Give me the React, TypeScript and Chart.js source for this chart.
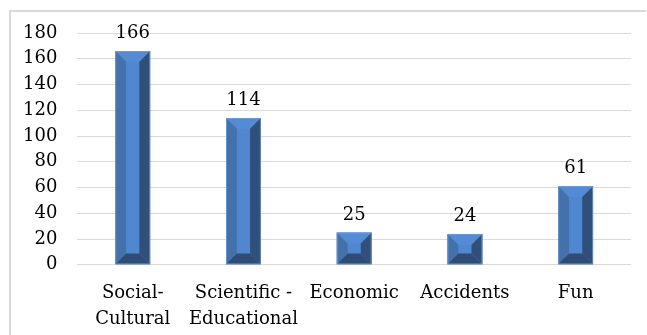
import React, { useEffect, useRef } from "react";
import { Chart, registerables } from "chart.js";

Chart.register(...registerables);

const categories: string[][] = [
  ["Social-", "Cultural"],
  ["Scientific -", "Educational"],
  ["Economic"],
  ["Accidents"],
  ["Fun"],
];
const counts: number[] = [166, 114, 25, 24, 61];
const yTicks: number[] = [0, 20, 40, 60, 80, 100, 120, 140, 160, 180];

const FONT = "'DejaVu Serif', serif";

// Bevelled bar faces, drawn over each plain bar
const bevelPlugin = {
  id: "bevel",
  afterDatasetsDraw(chart: any) {
    const ctx = chart.ctx;
    const meta = chart.getDatasetMeta(0);
    meta.data.forEach((bar: any) => {
      const { x, y, base, width } = bar.getProps(["x", "y", "base", "width"], true);
      const l = x - width / 2;
      const r = x + width / 2;
      const t = Math.min(y, base);
      const b = Math.max(y, base);
      const bv = Math.min(11, width * 0.31, (b - t) / 2 - 1);
      const poly = (pts: number[][], color: string) => {
        ctx.beginPath();
        ctx.moveTo(pts[0][0], pts[0][1]);
        for (let i = 1; i < pts.length; i++) ctx.lineTo(pts[i][0], pts[i][1]);
        ctx.closePath();
        ctx.fillStyle = color;
        ctx.fill();
      };
      ctx.save();
      poly([[l + bv, t + bv], [r - bv, t + bv], [r - bv, b - bv], [l + bv, b - bv]], "#4f87d0");
      poly([[l, t], [r, t], [r - bv, t + bv], [l + bv, t + bv]], "#548bd4");
      poly([[l, t], [l + bv, t + bv], [l + bv, b - bv], [l, b]], "#4471aa");
      poly([[r, t], [r, b], [r - bv, b - bv], [r - bv, t + bv]], "#30507b");
      poly([[l, b], [l + bv, b - bv], [r - bv, b - bv], [r, b]], "#2f4c75");
      ctx.strokeStyle = "rgba(120,160,215,0.7)";
      ctx.lineWidth = 1;
      ctx.strokeRect(l + 0.5, t + 0.5, width - 1, b - t - 1);
      ctx.restore();
    });
  },
};

// Value above each bar
const valueLabelPlugin = {
  id: "valueLabels",
  afterDatasetsDraw(chart: any) {
    const ctx = chart.ctx;
    const meta = chart.getDatasetMeta(0);
    const data = chart.data.datasets[0].data as number[];
    ctx.save();
    ctx.font = `18px ${FONT}`;
    ctx.fillStyle = "#000000";
    ctx.textAlign = "center";
    ctx.textBaseline = "alphabetic";
    meta.data.forEach((bar: any, i: number) => {
      ctx.fillText(String(data[i]), bar.x, bar.y - 13);
    });
    ctx.restore();
  },
};

// Light frame along the top and left edges
const framePlugin = {
  id: "frame",
  beforeDraw(chart: any) {
    const ctx = chart.ctx;
    ctx.save();
    ctx.strokeStyle = "#d9d9d9";
    ctx.lineWidth = 2;
    ctx.beginPath();
    ctx.moveTo(10, chart.height);
    ctx.lineTo(10, 11);
    ctx.lineTo(chart.width - 1, 11);
    ctx.stroke();
    ctx.restore();
  },
};

export default function App() {
  const canvasRef = useRef<HTMLCanvasElement | null>(null);

  useEffect(() => {
    document.body.style.margin = "0";
    const canvas = canvasRef.current;
    if (!canvas) return;
    const chart = new Chart(canvas, {
      type: "bar",
      data: {
        labels: categories,
        datasets: [
          {
            data: counts,
            backgroundColor: "#4f87d0",
            borderWidth: 0,
            barPercentage: 0.63,
            categoryPercentage: 0.5,
          },
        ],
      },
      options: {
        responsive: false,
        animation: false,
        devicePixelRatio: 1,
        layout: { padding: { left: 3, right: 16, top: 33, bottom: -12 } },
        plugins: {
          legend: { display: false },
          tooltip: { enabled: false },
        },
        scales: {
          x: {
            grid: { display: false, drawTicks: false },
            border: { display: false },
            ticks: {
              color: "#000000",
              font: { family: FONT, size: 18, lineHeight: 1.45 },
              padding: 15,
              maxRotation: 0,
              autoSkip: false,
            },
          },
          y: {
            min: 0,
            max: 180,
            afterBuildTicks: (axis: any) => {
              axis.ticks = yTicks.map((v) => ({ value: v }));
            },
            grid: { color: "#d9d9d9", lineWidth: 1, drawTicks: false },
            border: { display: false },
            ticks: {
              color: "#000000",
              font: { family: FONT, size: 18 },
              padding: 20,
              autoSkip: false,
            },
          },
        },
      },
      plugins: [framePlugin, bevelPlugin, valueLabelPlugin],
    });
    return () => chart.destroy();
  }, []);

  return (
    <div style={{ width: 647, height: 335, background: "#ffffff" }}>
      <canvas ref={canvasRef} width={647} height={335} />
    </div>
  );
}
